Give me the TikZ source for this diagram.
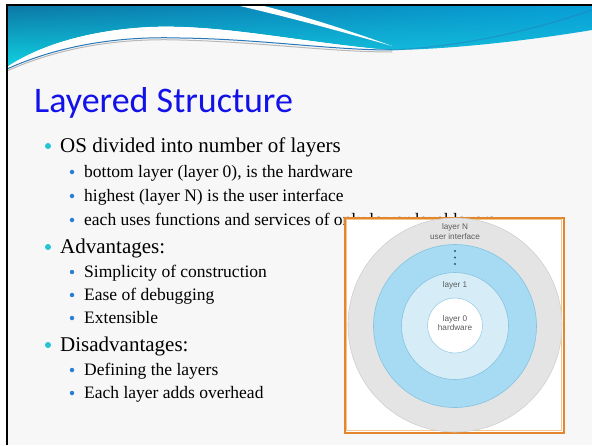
\documentclass[tikz,border=0pt]{standalone}
\usepackage{fontspec}
\setmainfont{Liberation Serif}
\setsansfont{Liberation Sans}
\newfontfamily\titlefont{Carlito}
\usetikzlibrary{positioning,shadings}

\definecolor{slidebg}{HTML}{F7F7F7}
\definecolor{bandtl}{HTML}{0C78A6}
\definecolor{bandtr}{HTML}{079FD6}
\definecolor{bandbl}{HTML}{10D2E2}
\definecolor{bandbr}{HTML}{18C4E0}
\definecolor{bandline}{HTML}{2A78B8}
\definecolor{titleblue}{HTML}{1212E8}
\definecolor{bulletcyan}{HTML}{22C4D6}
\definecolor{bulletblue}{HTML}{2A7FD4}
\definecolor{frameorange}{HTML}{E3862C}
\definecolor{framelight}{HTML}{F2C58E}
\definecolor{ringgrey}{HTML}{E4E4E4}
\definecolor{ringgreyedge}{HTML}{CFCFCF}
\definecolor{ringblue}{HTML}{A6DBF3}
\definecolor{ringblueedge}{HTML}{86C2DE}
\definecolor{ringpale}{HTML}{D6EDF8}
\definecolor{labelgrey}{HTML}{5C5C5C}
\definecolor{dotgrey}{HTML}{34506E}

\begin{document}
\begin{tikzpicture}[x=1pt,y=-1pt,
    lvlone/.style={anchor=base west,inner sep=0pt,font=\fontsize{21}{24}\selectfont},
    lvltwo/.style={anchor=base west,inner sep=0pt,font=\fontsize{17.5}{20}\selectfont},
    dotone/.style={circle,fill=bulletcyan,inner sep=0pt,minimum size=6pt},
    dottwo/.style={circle,fill=bulletblue,inner sep=0pt,minimum size=4.5pt},
    ring/.style={circle,inner sep=0pt,line width=0.6pt},
    tag/.style={font=\sffamily\fontsize{8.2}{9}\selectfont,text=labelgrey,inner sep=0pt},
    vdot/.style={circle,fill=dotgrey,inner sep=0pt,minimum size=2.4pt}]
\useasboundingbox (0,0) rectangle (592,445);
\fill[white] (0,0) rectangle (592,445);
\fill[slidebg] (7,5) rectangle (592,445);

% header band
\shade[upper left=bandtl,upper right=bandtr,lower left=bandbl,lower right=bandbr]
  (7,6) -- (592,6) -- (592,30) .. controls (520,42) and (440,50) .. (388,50)
  .. controls (300,42) and (220,24) .. (150,27) .. controls (90,30) and (40,45) .. (7,67) -- cycle;
\fill[white] (240,6) .. controls (300,20) and (350,34) .. (392,46)
  .. controls (345,29) and (300,15) .. (264,6) -- cycle;
\fill[white] (7,67) .. controls (40,45) and (90,30) .. (150,27) .. controls (220,24) and (300,42) .. (388,50)
  .. controls (330,50) and (260,39) .. (180,38) .. controls (120,36) and (60,45) .. (7,69) -- cycle;
\draw[bandline,line width=1pt] (7,69) .. controls (60,45) and (120,36) .. (180,38)
  .. controls (260,39) and (330,50) .. (392,50);
\draw[gray!55,line width=1pt] (7,71) .. controls (60,47) and (120,38) .. (180,40)
  .. controls (260,42) and (330,52) .. (392,52);
\draw[bandline,opacity=.45,line width=1.2pt] (392,50) .. controls (470,46) and (540,28) .. (592,10);

% slide edge
\draw[black,line width=2pt] (7,445) -- (7,5) -- (592,5);

% title
\node[anchor=base west,inner sep=0pt,font=\titlefont\fontsize{36}{40}\selectfont,text=titleblue]
  (title) at (34,112) {Layered Structure};

% bullets
\node[lvlone] (os) at (60,152) {OS divided into number of layers};
\node[lvltwo] (bottom) at (84,177) {bottom layer (layer 0), is the hardware};
\node[lvltwo] (highest) at (84,201) {highest (layer N) is the user interface};
\node[lvltwo] (each) at (84,225) {each uses functions and services of only lower-level layers};
\node[lvlone] (adv) at (60,253) {Advantages:};
\node[lvltwo] (simple) at (84,277) {Simplicity of construction};
\node[lvltwo] (ease) at (84,300) {Ease of debugging};
\node[lvltwo] (ext) at (84,323) {Extensible};
\node[lvlone] (disadv) at (60,351) {Disadvantages:};
\node[lvltwo] (define) at (84,375) {Defining the layers};
\node[lvltwo] (overhead) at (84,398) {Each layer adds overhead};

\foreach \n in {os,adv,disadv}
  \node[dotone] at ([xshift=-12pt,yshift=6pt]\n.base west) {};
\foreach \n in {bottom,highest,each,simple,ease,ext,define,overhead}
  \node[dottwo] at ([xshift=-12pt,yshift=5pt]\n.base west) {};

% layer picture
\node[draw=frameorange,line width=2pt,fill=white,minimum width=219pt,minimum height=215pt,inner sep=0pt]
  (figbox) at (454,325) {};
\draw[framelight,line width=.7pt] (346.5,219.5) rectangle (561.5,430.5);
\node[ring,fill=ringgrey,draw=ringgreyedge,minimum size=214pt] (layerN) at (455,325) {};
\node[ring,fill=ringblue,draw=ringblueedge,minimum size=163pt] (layermid) at (455,326) {};
\node[ring,fill=ringpale,draw=ringblueedge,minimum size=107pt] (layerone) at (455,326) {};
\node[ring,fill=white,draw=ringblueedge!80,minimum size=55pt] (layerzero) at (455,325.5) {};

\node[tag] (tagN) at (455,227.5) {layer N};
\node[tag] (tagui) at (455,237) {user interface};
\foreach \y in {251,257.5,264}
  \node[vdot] at (455,\y) {};
\node[tag] (tagone) at (455,285) {layer 1};
\node[tag] (tagzero) at (455,319) {layer 0};
\node[tag] (taghw) at (455,328) {hardware};
\end{tikzpicture}
\end{document}
